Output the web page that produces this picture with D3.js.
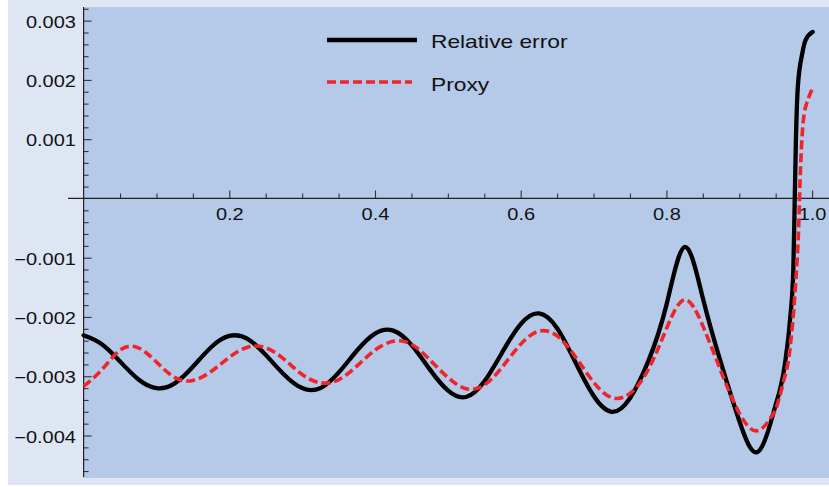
<!DOCTYPE html>
<html>
<head>
<meta charset="utf-8">
<script src="https://cdn.jsdelivr.net/npm/d3@7"></script>
<style>
  html, body { margin: 0; padding: 0; background: #ffffff; }
  svg { display: block; font-family: "Liberation Sans", Arial, Helvetica, sans-serif; }
</style>
</head>
<body>
<svg id="chart" width="829" height="487"></svg>
<script>
// ---- data ----
const seriesNames = ["Relative error", "Proxy"];

// sampled every 0.025 up to 0.95, then the steep final rise
const relErrX = [0.000, 0.025, 0.050, 0.075, 0.100, 0.125, 0.150, 0.175, 0.200, 0.225,
  0.250, 0.275, 0.300, 0.325, 0.350, 0.375, 0.400, 0.425, 0.450, 0.475,
  0.500, 0.525, 0.550, 0.575, 0.600, 0.625, 0.650, 0.675, 0.700, 0.725,
  0.750, 0.775, 0.800, 0.825, 0.850, 0.875, 0.900, 0.925, 0.950,
  0.9628, 0.9697, 0.9742, 0.9762, 0.9778, 0.9804, 0.9866, 0.991, 1.0008];
const relErrY = [-0.00231, -0.00246, -0.00275, -0.00305, -0.00320, -0.00312, -0.00284, -0.00251, -0.00232, -0.00237,
  -0.00264, -0.00297, -0.00320, -0.00320, -0.00294, -0.00257, -0.00228, -0.00223, -0.00247, -0.00288,
  -0.00324, -0.00335, -0.00309, -0.00259, -0.00212, -0.00194, -0.00219, -0.00276, -0.00333, -0.00360,
  -0.00337, -0.00275, -0.00180, -0.00082, -0.00168, -0.00278, -0.00375, -0.00428, -0.00348,
  -0.00278, -0.00205, -0.00121, 0.00000, 0.00100, 0.00188, 0.00245, 0.00267, 0.00281];

const proxyX = [0.000, 0.025, 0.050, 0.075, 0.100, 0.125, 0.150, 0.175, 0.200, 0.225,
  0.250, 0.275, 0.300, 0.325, 0.350, 0.375, 0.400, 0.425, 0.450, 0.475,
  0.500, 0.525, 0.550, 0.575, 0.600, 0.625, 0.650, 0.675, 0.700, 0.725,
  0.750, 0.775, 0.800, 0.825, 0.850, 0.875, 0.900, 0.925, 0.950,
  0.9605, 0.969, 0.977, 0.9815, 0.9835, 0.988, 0.9955, 1.000];
const proxyY = [-0.00317, -0.00289, -0.00256, -0.00252, -0.00276, -0.00302, -0.00307, -0.00292, -0.00268, -0.00251,
  -0.00252, -0.00271, -0.00297, -0.00311, -0.00306, -0.00283, -0.00256, -0.00241, -0.00246, -0.00272,
  -0.00302, -0.00321, -0.00315, -0.00284, -0.00246, -0.00224, -0.00232, -0.00267, -0.00310, -0.00336,
  -0.00329, -0.00289, -0.00220, -0.00171, -0.00215, -0.00292, -0.00362, -0.00392, -0.00357,
  -0.00310, -0.00260, -0.00150, -0.00050, 0.00030, 0.00132, 0.00171, 0.00184];

const xMajorTicks = [0.2, 0.4, 0.6, 0.8, 1.0];
const xTickLabels = ["0.2", "0.4", "0.6", "0.8", "1.0"];
const xMinorTicks = [0.05, 0.1, 0.15, 0.25, 0.3, 0.35, 0.45, 0.5, 0.55, 0.65, 0.7, 0.75, 0.85, 0.9, 0.95];
const yMajorTicks = [-0.004, -0.003, -0.002, -0.001, 0.001, 0.002, 0.003];
const yTickLabels = ["\u22120.004", "\u22120.003", "\u22120.002", "\u22120.001", "0.001", "0.002", "0.003"];
const yMinorTicks = [-0.0046, -0.0044, -0.0042, -0.0038, -0.0036, -0.0034, -0.0032, -0.0028, -0.0026, -0.0024, -0.0022,
  -0.0018, -0.0016, -0.0014, -0.0012, -0.0008, -0.0006, -0.0004, -0.0002,
  0.0002, 0.0004, 0.0006, 0.0008, 0.0012, 0.0014, 0.0016, 0.0018, 0.0022, 0.0024, 0.0026, 0.0028, 0.0032];

// ---- layout ----
const W = 829, H = 487;
const frame = {x0: 8, y0: 0, x1: 829, y1: 485};
const plot = {x0: 83, y0: 7, x1: 829, y1: 478};
const xRange = [83.6, 812.1];
const yDomain = [-0.0047, 0.00323];
const yRange = [477, 7];
const textStretch = 1.25;
const steepFrom = 0.95;   // beyond this x the curves are nearly vertical

const svg = d3.select("#chart");
const x = d3.scaleLinear().domain([0, 1]).range(xRange);
const y = d3.scaleLinear().domain(yDomain).range(yRange);

svg.append("rect").attr("x", frame.x0).attr("y", frame.y0)
  .attr("width", frame.x1 - frame.x0).attr("height", frame.y1 - frame.y0).attr("fill", "#dfe6f3");
svg.append("rect").attr("x", plot.x0).attr("y", plot.y0)
  .attr("width", plot.x1 - plot.x0).attr("height", plot.y1 - plot.y0).attr("fill", "#b5c9e8");

const x0px = x(0), y0px = y(0);
const axisColor = "#222";

function stretchText(sel) {
  sel.selectAll("text").each(function() {
    const t = d3.select(this);
    const tx = +t.attr("x") || 0, ty = +t.attr("y") || 0;
    t.attr("x", null).attr("y", null)
     .attr("transform", `translate(${tx},${ty}) scale(${textStretch},1)`);
  });
}

// X axis ticks (pointing up)
const gxMinor = svg.append("g").attr("transform", `translate(0,${y0px})`)
  .call(d3.axisTop(x).tickValues(xMinorTicks).tickSize(5).tickFormat(""));
const gxMajor = svg.append("g").attr("transform", `translate(0,${y0px})`)
  .call(d3.axisTop(x).tickValues(xMajorTicks).tickSize(8).tickFormat(""));
const gxLab = svg.append("g").attr("transform", `translate(0,${y0px})`)
  .call(d3.axisBottom(x).tickValues(xMajorTicks).tickSize(0)
    .tickFormat((d, i) => xTickLabels[i]));
gxLab.selectAll("text").attr("y", 21.2).attr("dy", null);

// Y axis ticks (pointing right)
const gyMinor = svg.append("g").attr("transform", `translate(${x0px},0)`)
  .call(d3.axisRight(y).tickValues(yMinorTicks).tickSize(5).tickFormat(""));
const gyMajor = svg.append("g").attr("transform", `translate(${x0px},0)`)
  .call(d3.axisRight(y).tickValues(yMajorTicks).tickSize(8).tickFormat(""));
const gyLab = svg.append("g").attr("transform", `translate(${x0px},0)`)
  .call(d3.axisLeft(y).tickValues(yMajorTicks).tickSize(0).tickPadding(7.6)
    .tickFormat((d, i) => yTickLabels[i]));
gyLab.selectAll("text").attr("dy", null).attr("y", 6.5);

[gxMinor, gxMajor, gxLab, gyMinor, gyMajor, gyLab].forEach(g => {
  g.select(".domain").remove();
  g.selectAll("line").attr("stroke", "#333").attr("stroke-width", 1.1);
  g.selectAll("text").attr("fill", "#111").attr("font-size", 16)
    .attr("font-family", "'Liberation Sans', Arial, sans-serif");
});
stretchText(gxLab);
stretchText(gyLab);

// axis lines
svg.append("line").attr("x1", 68).attr("x2", W).attr("y1", y0px).attr("y2", y0px)
  .attr("stroke", axisColor).attr("stroke-width", 1.2);
svg.append("line").attr("x1", x0px).attr("x2", x0px).attr("y1", yRange[1]).attr("y2", yRange[0])
  .attr("stroke", axisColor).attr("stroke-width", 1.2);

// curves: natural spline on the evenly sampled part, monotone on the steep end
const smoothLine = d3.line().x(d => x(d[0])).y(d => y(d[1])).curve(d3.curveNatural);
const steepLine = d3.line().x(d => x(d[0])).y(d => y(d[1])).curve(d3.curveMonotoneX);
function drawSeries(xs, ys, style) {
  const pts = xs.map((v, i) => [v, ys[i]]);
  const k = pts.findIndex(p => p[0] >= steepFrom);
  const d = smoothLine(pts.slice(0, k + 1)) + steepLine(pts.slice(k)).replace(/^M[^LC]*/, "");
  const p = svg.append("path").attr("d", d).attr("fill", "none");
  Object.entries(style).forEach(([a, v]) => p.attr(a, v));
}
drawSeries(relErrX, relErrY, {"stroke": "#000", "stroke-width": 4.3,
  "stroke-linejoin": "round", "stroke-linecap": "round"});
drawSeries(proxyX, proxyY, {"stroke": "#f0252b", "stroke-width": 3.6, "stroke-dasharray": "9,4"});

// legend
const legendItems = [
  {name: seriesNames[0], color: "#000", dash: null, width: 4.3, x1: 417, yLine: 40, yText: 48.3},
  {name: seriesNames[1], color: "#f0252b", dash: "9,4", width: 3.6, x1: 412, yLine: 82, yText: 90.7}
];
const lg = svg.append("g");
legendItems.forEach(it => {
  lg.append("line").attr("x1", 327).attr("x2", it.x1).attr("y1", it.yLine).attr("y2", it.yLine)
    .attr("stroke", it.color).attr("stroke-width", it.width)
    .attr("stroke-dasharray", it.dash);
  lg.append("text").attr("transform", `translate(431,${it.yText}) scale(1.23,1)`)
    .attr("font-size", 18.5).attr("fill", "#111").text(it.name);
});
</script>
</body>
</html>
